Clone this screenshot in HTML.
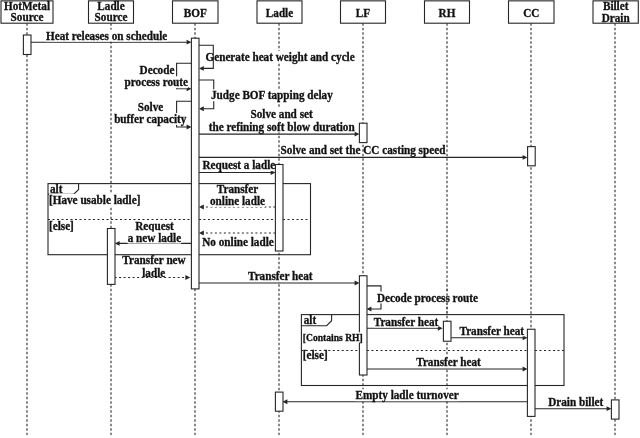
<!DOCTYPE html>
<html><head><meta charset="utf-8"><style>
html,body{margin:0;padding:0;background:#fff;}
body{width:640px;height:438px;overflow:hidden;}
svg{display:block;filter:blur(0.35px);}
text{font-family:"Liberation Serif",serif;font-weight:bold;fill:#111;stroke:#111;stroke-width:0.3px;}
</style></head><body>
<svg width="640" height="438" viewBox="0 0 640 438">
<rect x="0" y="0" width="640" height="438" fill="#fff"/>
<line x1="27" y1="23.2" x2="27" y2="435" stroke="#444" stroke-width="1.25" stroke-dasharray="2.5,2"/>
<line x1="111" y1="23.2" x2="111" y2="435" stroke="#444" stroke-width="1.25" stroke-dasharray="2.5,2"/>
<line x1="195" y1="23.2" x2="195" y2="435" stroke="#444" stroke-width="1.25" stroke-dasharray="2.5,2"/>
<line x1="279" y1="23.2" x2="279" y2="435" stroke="#444" stroke-width="1.25" stroke-dasharray="2.5,2"/>
<line x1="363" y1="23.2" x2="363" y2="435" stroke="#444" stroke-width="1.25" stroke-dasharray="2.5,2"/>
<line x1="447" y1="23.2" x2="447" y2="435" stroke="#444" stroke-width="1.25" stroke-dasharray="2.5,2"/>
<line x1="531" y1="23.2" x2="531" y2="435" stroke="#444" stroke-width="1.25" stroke-dasharray="2.5,2"/>
<line x1="615" y1="23.2" x2="615" y2="435" stroke="#444" stroke-width="1.25" stroke-dasharray="2.5,2"/>
<line x1="31" y1="42.2" x2="189.4" y2="42.2" stroke="#262626" stroke-width="1.1"/>
<polygon points="191.4,42.2 186.6,39.800000000000004 186.6,44.6" fill="#262626"/>
<polyline points="191.4,63.2 176.6,63.2 176.6,88.8 189.4,88.8" fill="none" stroke="#262626" stroke-width="1.1"/>
<polygon points="191.4,88.8 186.6,86.39999999999999 186.6,91.2" fill="#262626"/>
<polyline points="199,80 213.75,80 213.75,108.75 201,108.75" fill="none" stroke="#262626" stroke-width="1.1"/>
<polygon points="199,108.75 203.8,106.35 203.8,111.15" fill="#262626"/>
<polyline points="191.4,101.25 176.6,101.25 176.6,127 189.4,127" fill="none" stroke="#262626" stroke-width="1.1"/>
<polygon points="191.4,127 186.6,124.6 186.6,129.4" fill="#262626"/>
<line x1="199" y1="134.1" x2="357.4" y2="134.1" stroke="#262626" stroke-width="1.1"/>
<polygon points="359.4,134.1 354.59999999999997,131.7 354.59999999999997,136.5" fill="#262626"/>
<line x1="199" y1="157.4" x2="525.4" y2="157.4" stroke="#262626" stroke-width="1.1"/>
<polygon points="527.4,157.4 522.6,155.0 522.6,159.8" fill="#262626"/>
<line x1="199" y1="172.5" x2="273.4" y2="172.5" stroke="#262626" stroke-width="1.1"/>
<polygon points="275.4,172.5 270.59999999999997,170.1 270.59999999999997,174.9" fill="#262626"/>
<line x1="275.4" y1="207" x2="201" y2="207" stroke="#262626" stroke-width="1.1" stroke-dasharray="2,2.5"/>
<polygon points="199,207 203.8,204.6 203.8,209.4" fill="#262626"/>
<line x1="275.4" y1="233" x2="201" y2="233" stroke="#262626" stroke-width="1.1" stroke-dasharray="2,2.5"/>
<polygon points="199,233 203.8,230.6 203.8,235.4" fill="#262626"/>
<line x1="191.4" y1="243.4" x2="116.8" y2="243.4" stroke="#262626" stroke-width="1.1"/>
<polygon points="114.8,243.4 119.6,241.0 119.6,245.8" fill="#262626"/>
<line x1="114.6" y1="277.5" x2="188.2" y2="277.5" stroke="#262626" stroke-width="1.1" stroke-dasharray="2,2.5"/>
<polygon points="190.2,277.5 185.39999999999998,275.1 185.39999999999998,279.9" fill="#262626"/>
<line x1="199" y1="283" x2="357.4" y2="283" stroke="#262626" stroke-width="1.1"/>
<polygon points="359.4,283 354.59999999999997,280.6 354.59999999999997,285.4" fill="#262626"/>
<polyline points="366.6,285.85 381,285.85 381,309 368.6,309" fill="none" stroke="#262626" stroke-width="1.1"/>
<polygon points="366.6,309 371.40000000000003,306.6 371.40000000000003,311.4" fill="#262626"/>
<line x1="366.6" y1="328.25" x2="440.6" y2="328.25" stroke="#262626" stroke-width="1.1"/>
<polygon points="442.6,328.25 437.8,325.85 437.8,330.65" fill="#262626"/>
<line x1="450.6" y1="337.8" x2="525.4" y2="337.8" stroke="#262626" stroke-width="1.1"/>
<polygon points="527.4,337.8 522.6,335.40000000000003 522.6,340.2" fill="#262626"/>
<line x1="366.6" y1="369" x2="525.4" y2="369" stroke="#262626" stroke-width="1.1"/>
<polygon points="527.4,369 522.6,366.6 522.6,371.4" fill="#262626"/>
<line x1="527.4" y1="401.75" x2="284.6" y2="401.75" stroke="#262626" stroke-width="1.1"/>
<polygon points="282.6,401.75 287.40000000000003,399.35 287.40000000000003,404.15" fill="#262626"/>
<line x1="534.6" y1="408.7" x2="609.4" y2="408.7" stroke="#262626" stroke-width="1.1"/>
<polygon points="611.4,408.7 606.6,406.3 606.6,411.09999999999997" fill="#262626"/>
<rect x="46.00" y="29.62" width="121.42" height="11.88" fill="#fff"/>
<text transform="translate(46,39.6) scale(1,1.06)" font-size="11.2">Heat releases on schedule</text>
<rect x="205.50" y="51.02" width="149.30" height="11.88" fill="#fff"/>
<text transform="translate(205.5,61.0) scale(1,1.06)" font-size="11.2">Generate heat weight and cycle</text>
<rect x="139.58" y="64.27" width="34.83" height="11.88" fill="#fff"/>
<text transform="translate(157,74.25) scale(1,1.06)" text-anchor="middle" font-size="11.2">Decode</text>
<rect x="124.57" y="76.27" width="63.36" height="11.88" fill="#fff"/>
<text transform="translate(156.25,86.25) scale(1,1.06)" text-anchor="middle" font-size="11.2">process route</text>
<rect x="211.00" y="89.27" width="121.88" height="11.88" fill="#fff"/>
<text transform="translate(211,99.25) scale(1,1.06)" font-size="11.2">Judge BOF tapping delay</text>
<rect x="137.74" y="101.02" width="25.51" height="11.88" fill="#fff"/>
<text transform="translate(150.5,111.0) scale(1,1.06)" text-anchor="middle" font-size="11.2">Solve</text>
<rect x="114.11" y="113.02" width="72.27" height="11.88" fill="#fff"/>
<text transform="translate(150.25,123.0) scale(1,1.06)" text-anchor="middle" font-size="11.2">buffer capacity</text>
<rect x="250.49" y="107.82" width="62.23" height="11.88" fill="#fff"/>
<text transform="translate(281.6,117.8) scale(1,1.06)" text-anchor="middle" font-size="11.2">Solve and set</text>
<rect x="208.69" y="120.52" width="146.03" height="11.88" fill="#fff"/>
<text transform="translate(281.7,130.5) scale(1,1.06)" text-anchor="middle" font-size="11.2">the refining soft blow duration</text>
<rect x="202.50" y="159.27" width="72.80" height="11.88" fill="#fff"/>
<text transform="translate(202.5,169.25) scale(1,1.06)" font-size="11.2">Request a ladle</text>
<rect x="216.77" y="183.02" width="41.47" height="11.88" fill="#fff"/>
<text transform="translate(237.5,193.0) scale(1,1.06)" text-anchor="middle" font-size="11.2">Transfer</text>
<rect x="209.96" y="195.02" width="55.08" height="11.88" fill="#fff"/>
<text transform="translate(237.5,205.0) scale(1,1.06)" text-anchor="middle" font-size="11.2">online ladle</text>
<rect x="202.22" y="235.52" width="71.56" height="11.88" fill="#fff"/>
<text transform="translate(238,245.5) scale(1,1.06)" text-anchor="middle" font-size="11.2">No online ladle</text>
<rect x="135.21" y="219.92" width="38.58" height="11.88" fill="#fff"/>
<text transform="translate(154.5,229.9) scale(1,1.06)" text-anchor="middle" font-size="11.2">Request</text>
<rect x="127.64" y="231.72" width="53.51" height="11.88" fill="#fff"/>
<text transform="translate(154.4,241.7) scale(1,1.06)" text-anchor="middle" font-size="11.2">a new ladle</text>
<rect x="122.32" y="254.42" width="63.36" height="11.88" fill="#fff"/>
<text transform="translate(154,264.4) scale(1,1.06)" text-anchor="middle" font-size="11.2">Transfer new</text>
<text transform="translate(153.75,276.5) scale(1,1.06)" text-anchor="middle" font-size="11.2">ladle</text>
<rect x="248.00" y="270.02" width="64.60" height="11.88" fill="#fff"/>
<text transform="translate(248,280.0) scale(1,1.06)" font-size="11.2">Transfer heat</text>
<rect x="377.00" y="291.52" width="100.99" height="11.88" fill="#fff"/>
<text transform="translate(377,301.5) scale(1,1.06)" font-size="11.2">Decode process route</text>
<rect x="373.75" y="315.52" width="64.60" height="11.88" fill="#fff"/>
<text transform="translate(373.75,325.5) scale(1,1.06)" font-size="11.2">Transfer heat</text>
<rect x="459.50" y="324.52" width="64.60" height="11.88" fill="#fff"/>
<text transform="translate(459.5,334.5) scale(1,1.06)" font-size="11.2">Transfer heat</text>
<rect x="416.25" y="356.02" width="64.60" height="11.88" fill="#fff"/>
<text transform="translate(416.25,366.0) scale(1,1.06)" font-size="11.2">Transfer heat</text>
<rect x="355.50" y="389.27" width="103.28" height="11.88" fill="#fff"/>
<text transform="translate(355.5,399.25) scale(1,1.06)" font-size="11.2">Empty ladle turnover</text>
<rect x="548.20" y="395.52" width="55.06" height="11.88" fill="#fff"/>
<text transform="translate(548.2,405.5) scale(1,1.06)" font-size="11.2">Drain billet</text>
<rect x="48" y="183.6" width="262.5" height="71.1" fill="none" stroke="#262626" stroke-width="1.1"/>
<polyline points="48,194.4 73.6,194.4 78.6,189.4 78.6,183.6" fill="none" stroke="#262626" stroke-width="1.1"/>
<rect x="301.4" y="314.6" width="262.6" height="70.89999999999998" fill="none" stroke="#262626" stroke-width="1.1"/>
<polyline points="301.4,325.7 326.6,325.7 331.6,320.7 331.6,314.6" fill="none" stroke="#262626" stroke-width="1.1"/>
<rect x="1" y="0.85" width="52" height="22.35" fill="#fff" stroke="#262626" stroke-width="1.1"/>
<text transform="translate(27.0,9.7) scale(1,1.06)" text-anchor="middle" font-size="11.2">HotMetal</text>
<text transform="translate(27.0,21.4) scale(1,1.06)" text-anchor="middle" font-size="11.2">Source</text>
<rect x="88.5" y="0.85" width="45.0" height="22.35" fill="#fff" stroke="#262626" stroke-width="1.1"/>
<text transform="translate(111.0,9.7) scale(1,1.06)" text-anchor="middle" font-size="11.2">Ladle</text>
<text transform="translate(111.0,21.4) scale(1,1.06)" text-anchor="middle" font-size="11.2">Source</text>
<rect x="172.5" y="0.85" width="45.5" height="22.35" fill="#fff" stroke="#262626" stroke-width="1.1"/>
<text transform="translate(195.25,16.5) scale(1,1.06)" text-anchor="middle" font-size="11.2">BOF</text>
<rect x="257" y="0.85" width="45" height="22.35" fill="#fff" stroke="#262626" stroke-width="1.1"/>
<text transform="translate(279.5,16.5) scale(1,1.06)" text-anchor="middle" font-size="11.2">Ladle</text>
<rect x="340.5" y="0.85" width="45.0" height="22.35" fill="#fff" stroke="#262626" stroke-width="1.1"/>
<text transform="translate(363.0,16.5) scale(1,1.06)" text-anchor="middle" font-size="11.2">LF</text>
<rect x="424.5" y="0.85" width="45.0" height="22.35" fill="#fff" stroke="#262626" stroke-width="1.1"/>
<text transform="translate(447.0,16.5) scale(1,1.06)" text-anchor="middle" font-size="11.2">RH</text>
<rect x="508.5" y="0.85" width="45.5" height="22.35" fill="#fff" stroke="#262626" stroke-width="1.1"/>
<text transform="translate(531.25,16.5) scale(1,1.06)" text-anchor="middle" font-size="11.2">CC</text>
<rect x="593" y="0.85" width="45.299999999999955" height="22.35" fill="#fff" stroke="#262626" stroke-width="1.1"/>
<text transform="translate(615.65,9.6) scale(1,1.06)" text-anchor="middle" font-size="11.2">Billet</text>
<text transform="translate(615.65,21.8) scale(1,1.06)" text-anchor="middle" font-size="11.2">Drain</text>
<rect x="23.4" y="35" width="7.6" height="19.5" fill="#fff" stroke="#262626" stroke-width="1.1"/>
<rect x="191.4" y="38.2" width="7.6" height="250.7" fill="#fff" stroke="#262626" stroke-width="1.1"/>
<rect x="359.4" y="123.2" width="7.6" height="19.39999999999999" fill="#fff" stroke="#262626" stroke-width="1.1"/>
<rect x="527.6" y="146.6" width="7.6" height="19.200000000000017" fill="#fff" stroke="#262626" stroke-width="1.1"/>
<rect x="275.4" y="164.5" width="7.6" height="86.5" fill="#fff" stroke="#262626" stroke-width="1.1"/>
<rect x="107.4" y="228.5" width="7.6" height="55.89999999999998" fill="#fff" stroke="#262626" stroke-width="1.1"/>
<rect x="359.4" y="275.75" width="7.6" height="99.25" fill="#fff" stroke="#262626" stroke-width="1.1"/>
<rect x="443.4" y="321.25" width="7.6" height="20.0" fill="#fff" stroke="#262626" stroke-width="1.1"/>
<rect x="527.4" y="329.25" width="7.6" height="87.14999999999998" fill="#fff" stroke="#262626" stroke-width="1.1"/>
<rect x="275.4" y="392.1" width="7.6" height="19.099999999999966" fill="#fff" stroke="#262626" stroke-width="1.1"/>
<rect x="611.4" y="399.9" width="7.6" height="19.200000000000045" fill="#fff" stroke="#262626" stroke-width="1.1"/>
<text transform="translate(50,192.6) scale(1,1.06)" font-size="11.2">alt</text>
<rect x="49.00" y="193.92" width="91.46" height="11.88" fill="#fff"/>
<text transform="translate(49,203.9) scale(1,1.06)" font-size="11.2">[Have usable ladle]</text>
<rect x="49.00" y="219.52" width="24.87" height="11.88" fill="#fff"/>
<text transform="translate(49,229.5) scale(1,1.06)" font-size="11.2">[else]</text>
<text transform="translate(303.75,323.75) scale(1,1.06)" font-size="11.2">alt</text>
<rect x="302.80" y="332.25" width="60.01" height="10.45" fill="#fff"/>
<text transform="translate(302.8,340.8) scale(1,1.06)" font-size="9.6">[Contains RH]</text>
<rect x="302.80" y="349.22" width="24.87" height="11.88" fill="#fff"/>
<text transform="translate(302.8,359.2) scale(1,1.06)" font-size="11.2">[else]</text>
<polyline points="199,45.3 213.3,45.3 213.3,68.4 201,68.4" fill="none" stroke="#262626" stroke-width="1.1"/>
<polygon points="199,68.4 203.8,66.0 203.8,70.80000000000001" fill="#262626"/>
<text transform="translate(280.6,153.8) scale(1,1.06)" font-size="11.2">Solve and set the CC casting speed</text>
<line x1="447" y1="288.7" x2="447" y2="312.7" stroke="#444" stroke-width="1.25" stroke-dasharray="2.5,2"/>
<line x1="48" y1="219.5" x2="191.4" y2="219.5" stroke="#262626" stroke-width="1.1" stroke-dasharray="2,2.5"/>
<line x1="199" y1="219.5" x2="275.4" y2="219.5" stroke="#262626" stroke-width="1.1" stroke-dasharray="2,2.5"/>
<line x1="283" y1="219.5" x2="310.5" y2="219.5" stroke="#262626" stroke-width="1.1" stroke-dasharray="2,2.5"/>
<line x1="301.25" y1="350.5" x2="359.4" y2="350.5" stroke="#262626" stroke-width="1.1" stroke-dasharray="2,2.5"/>
<line x1="367" y1="350.5" x2="527.4" y2="350.5" stroke="#262626" stroke-width="1.1" stroke-dasharray="2,2.5"/>
<line x1="535" y1="350.5" x2="564" y2="350.5" stroke="#262626" stroke-width="1.1" stroke-dasharray="2,2.5"/>
</svg>
</body></html>
